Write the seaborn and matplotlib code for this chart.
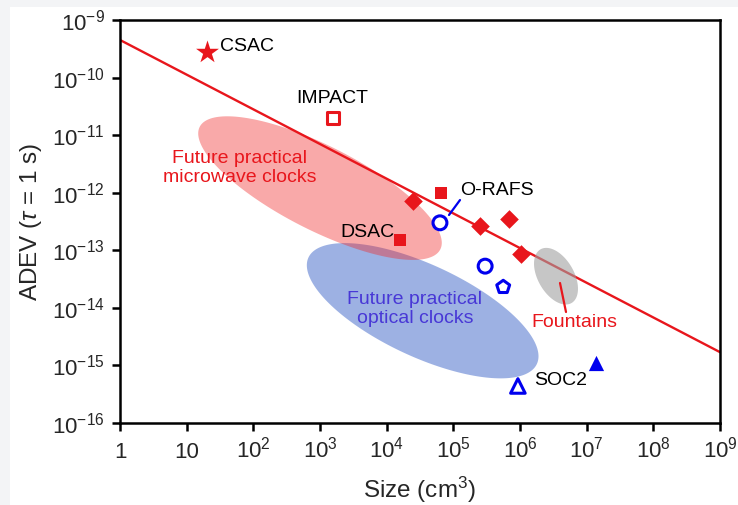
import numpy as np
import matplotlib.pyplot as plt
from matplotlib.patches import Rectangle
from matplotlib.ticker import FixedLocator, FixedFormatter, NullLocator
import seaborn as sns

# data (size in cm^3, ADEV at tau = 1 s)
csac_x, csac_y = [20], [2.8e-10]
impact_x, impact_y = [1550], [2.0e-11]
red_sq_x = [6.5e4, 1.6e4]
red_sq_y = [1.0e-12, 1.5e-13]
diamond_x = [2.5e4, 2.5e5, 6.8e5, 1.05e6]
diamond_y = [7.2e-13, 2.6e-13, 3.5e-13, 8.6e-14]
circle_x = [6.3e4, 3.0e5]
circle_y = [3.0e-13, 5.3e-14]
pent_x, pent_y = [5.6e5], [2.3e-14]
soc2_x, soc2_y = [9.3e5], [4.4e-16]
tri_x, tri_y = [1.4e7], [1.1e-15]
trend_x = [1, 1e9]
trend_y = [4.5e-10, 1.7e-15]

x_ticks = [10.0 ** k for k in range(0, 10)]
x_tick_labels = ['1', '10'] + ['$10^{%d}$' % k for k in range(2, 10)]
y_ticks = [10.0 ** k for k in range(-16, -8)]
y_tick_labels = ['$10^{%d}$' % k for k in range(-16, -8)]

RED = '#e8161c'
BLUE = '#0000ee'
TXT_BLUE = '#4838d6'

sns.set_theme(style="ticks")
plt.rcParams['font.family'] = ['Liberation Sans', 'DejaVu Sans']
plt.rcParams['mathtext.fontset'] = 'custom'
plt.rcParams['mathtext.rm'] = 'Liberation Sans'
plt.rcParams['mathtext.it'] = 'Liberation Sans:italic'

fig = plt.figure(figsize=(7.38, 5.05), dpi=100)
fig.patch.set_facecolor('#f3f4f6')
fig.add_artist(Rectangle((10 / 738, 0), 1, 498 / 505, transform=fig.transFigure,
                         facecolor='white', edgecolor='none', zorder=-5))
ax = fig.add_axes([120 / 738, 82 / 505, 600 / 738, 403 / 505])
ax.set_xscale('log')
ax.set_yscale('log')
ax.set_xlim(1, 1e9)
ax.set_ylim(1e-16, 1e-9)
ax.set_facecolor('white')


def blob(cx, cy, a, b, ang, **kw):
    # ellipse drawn in screen pixels, mapped back to data space
    c = ax.transData.transform((cx, cy))
    t = np.linspace(0, 2 * np.pi, 200)
    th = np.deg2rad(ang)
    px = c[0] + a * np.cos(t) * np.cos(th) - b * np.sin(t) * np.sin(th)
    py = c[1] + a * np.cos(t) * np.sin(th) + b * np.sin(t) * np.cos(th)
    pts = ax.transData.inverted().transform(np.column_stack([px, py]))
    ax.fill(pts[:, 0], pts[:, 1], lw=0, **kw)


blob(10 ** 4.54, 10 ** -14.05, 126, 46, -25, color='#3c64c8', alpha=0.5, zorder=1)
blob(1e3, 10 ** -11.92, 135, 42, -27, color='#f02828', alpha=0.4, zorder=1)

sns.lineplot(x=trend_x, y=trend_y, color=RED, lw=1.7, ax=ax, zorder=2)
blob(10 ** 6.54, 10 ** -13.45, 31, 18, -60, color='#a0a0a0', alpha=0.6, zorder=3)

sns.scatterplot(x=csac_x, y=csac_y, marker='*', s=300, color=RED, linewidth=0, ax=ax, zorder=5)
sns.scatterplot(x=impact_x, y=impact_y, marker='s', s=70, facecolor='white',
                edgecolor=RED, linewidth=2.2, ax=ax, zorder=5)
sns.scatterplot(x=red_sq_x, y=red_sq_y, marker='s', s=70, color=RED, linewidth=0, ax=ax, zorder=5)
sns.scatterplot(x=diamond_x, y=diamond_y, marker='D', s=90, color=RED, linewidth=0, ax=ax, zorder=5)
sns.scatterplot(x=circle_x, y=circle_y, marker='o', s=100, facecolor='none',
                edgecolor=BLUE, linewidth=2.2, ax=ax, zorder=5)
sns.scatterplot(x=pent_x, y=pent_y, marker='p', s=95, facecolor='none',
                edgecolor=BLUE, linewidth=2.2, ax=ax, zorder=5)
sns.scatterplot(x=soc2_x, y=soc2_y, marker='^', s=110, facecolor='none',
                edgecolor=BLUE, linewidth=2.2, ax=ax, zorder=5)
sns.scatterplot(x=tri_x, y=tri_y, marker='^', s=120, color=BLUE, linewidth=0, ax=ax, zorder=5)

# labels
fs = 14
ax.text(31.6, 3.4e-10, 'CSAC', fontsize=fs, ha='left', va='center', color='black')
ax.text(1513, 4.25e-11, 'IMPACT', fontsize=fs, ha='center', va='center', color='black')
ax.text(1.26e5, 1.11e-12, 'O-RAFS', fontsize=fs, ha='left', va='center', color='black')
ax.text(1.33e4, 2.07e-13, 'DSAC', fontsize=fs, ha='right', va='center', color='black')
ax.text(1.62e6, 5.4e-16, 'SOC2', fontsize=fs, ha='left', va='center', color='black')
ax.text(63, 2.68e-12, 'Future practical\nmicrowave clocks', fontsize=fs, ha='center',
        va='center', color=RED, linespacing=1.15)
ax.text(2.66e4, 9.5e-15, 'Future practical\noptical clocks', fontsize=fs, ha='center',
        va='center', color=TXT_BLUE, linespacing=1.15)
ax.text(6.46e6, 5.5e-15, 'Fountains', fontsize=fs, ha='center', va='center', color=RED)
ax.plot([10 ** 4.935, 10 ** 5.1], [10 ** -12.387, 10 ** -12.127], color=BLUE, lw=1.6, zorder=4)
ax.plot([10 ** 6.6, 10 ** 6.69], [10 ** -13.568, 10 ** -14.072], color=RED, lw=1.6, zorder=4)

ax.xaxis.set_major_locator(FixedLocator(x_ticks))
ax.xaxis.set_major_formatter(FixedFormatter(x_tick_labels))
ax.yaxis.set_major_locator(FixedLocator(y_ticks))
ax.yaxis.set_major_formatter(FixedFormatter(y_tick_labels))
ax.xaxis.set_minor_locator(NullLocator())
ax.yaxis.set_minor_locator(NullLocator())
ax.tick_params(direction='out', length=6, width=1.8, labelsize=16, color='black')
ax.tick_params(axis='x', pad=19)
ax.tick_params(axis='y', pad=5)
# x labels share a baseline, as in the reference
for lab in ax.get_xticklabels():
    lab.set_va('baseline')
for sp in ax.spines.values():
    sp.set_linewidth(1.8)
    sp.set_color('black')

ax.set_xlabel('Size (cm$^3$)', fontsize=17.5, labelpad=9)
ax.set_ylabel('ADEV ($\\tau$ = 1 s)', fontsize=17.5, labelpad=6)

fig.savefig('out.png', dpi=100, facecolor=fig.get_facecolor())
